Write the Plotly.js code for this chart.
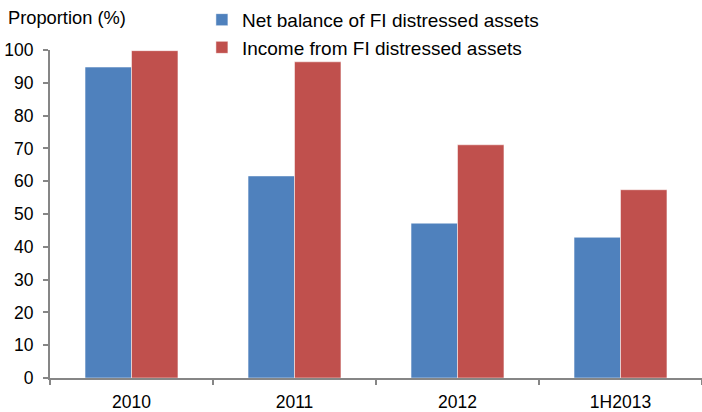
<!DOCTYPE html>
<html>
<head>
<meta charset="utf-8">
<script src="https://cdn.plot.ly/plotly-3.0.1.min.js"></script>
<style>html,body{margin:0;padding:0;background:#fff;}#chart{width:702px;height:412px;}</style>
</head>
<body>
<div id="chart"></div>
<script>
var categories = ["2010", "2011", "2012", "1H2013"];
var netBalance = [94.8, 61.6, 47.2, 42.9];
var income = [99.8, 96.4, 71.1, 57.4];
var seriesNames = ["Net balance of FI distressed assets", "Income from FI distressed assets"];
var yTicks = [0, 10, 20, 30, 40, 50, 60, 70, 80, 90, 100];

var font = {family: "Liberation Sans, Arial, sans-serif", size: 17.5, color: "#000"};
var legendFont = {family: "Liberation Sans, Arial, sans-serif", size: 19, color: "#000"};
var titleFont = {family: "Liberation Sans, Arial, sans-serif", size: 18.3, color: "#000"};
var data = [
  {type: "bar", x: categories, y: netBalance, name: seriesNames[0], legendgroup: "a",
   marker: {color: "#4f81bd", line: {color: "rgba(255,255,255,0.5)", width: 1}}},
  {type: "bar", x: categories, y: income, name: seriesNames[1], legendgroup: "b",
   marker: {color: "#c0504d", line: {color: "rgba(255,255,255,0.5)", width: 1}}}
];
var layout = {
  width: 702, height: 412,
  margin: {l: 50, r: 0, t: 49.5, b: 33.5, pad: 0},
  paper_bgcolor: "#fff", plot_bgcolor: "#fff",
  font: font,
  barmode: "group", bargap: 0.43, bargroupgap: 0,
  showlegend: true,
  legend: {x: 0.233, y: 1.15, xanchor: "left", yanchor: "top", bgcolor: "rgba(0,0,0,0)",
           font: legendFont, traceorder: "grouped", tracegroupgap: 0, itemwidth: 30},
  xaxis: {type: "category", showline: true, linecolor: "#868686", linewidth: 2,
          ticks: "outside", tickson: "boundaries", ticklen: 5, tickcolor: "#868686", tickwidth: 2,
          showgrid: false, zeroline: false, tickfont: font, ticklabelstandoff: 7, fixedrange: true},
  yaxis: {range: [0, 100], tickvals: yTicks, showline: true, linecolor: "#868686", linewidth: 2,
          ticks: "outside", ticklen: 5, tickcolor: "#868686", tickwidth: 2,
          showgrid: false, zeroline: false, tickfont: font, ticklabelstandoff: 6, fixedrange: true},
  annotations: [{text: "Proportion (%)", xref: "paper", yref: "paper", x: -0.067, y: 1.137,
                 xanchor: "left", yanchor: "top", showarrow: false, font: titleFont}]
};
Plotly.newPlot("chart", data, layout, {displayModeBar: false, staticPlot: true});
</script>
</body>
</html>
